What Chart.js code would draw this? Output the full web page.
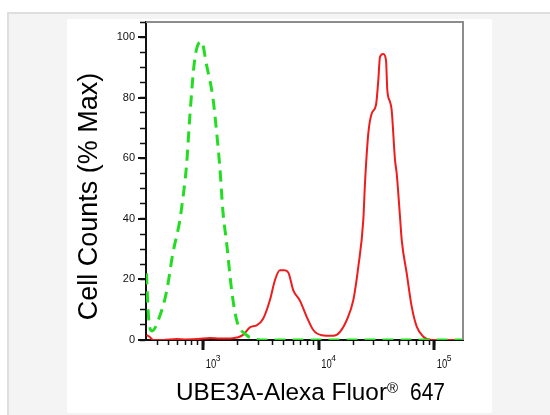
<!DOCTYPE html>
<html>
<head>
<meta charset="utf-8">
<script src="https://cdn.jsdelivr.net/npm/chart.js@4.4.1/dist/chart.umd.min.js"></script>
<style>
    body { margin: 0; background: #fff; width: 550px; height: 415px; position: relative; overflow: hidden; }
    #frame { position: absolute; left: 7px; top: 12px; width: 543px; height: 403px; background: #f4f4f4; border-top: 2px solid #dedede; border-left: 2px solid #dedede; box-sizing: border-box; }
    #panel { position: absolute; left: 67px; top: 19px; width: 425px; height: 394px; background: #fff; }
    #chart { position: absolute; left: 0; top: 0; }
</style>
</head>
<body>
<div id="frame"></div>
<div id="panel"><canvas id="chart" width="425" height="394"></canvas></div>
<script>
// isotype control (green, dashed)
const controlX = [323, 336, 360, 422, 485, 547, 629, 650, 718, 767, 847, 968, 1069, 1213, 1306, 1395, 1482, 1595, 1762, 1946, 2376, 2693, 3500, 10000, 50000, 177000];
const controlY = [22, 8, 3, 8, 16.5, 28.7, 39.6, 43.5, 57.8, 74, 93, 98.5, 90.8, 80, 68.7, 56.8, 42.4, 32, 16.5, 6.6, 1.6, 0.5, 0, 0, 0, 0];

// UBE3A stained (red)
const stainX = [324, 345, 370, 450, 590, 700, 900, 1150, 1400, 1800, 2200, 2540, 2900, 3300, 3780, 4180, 4610, 5050, 5450, 6010, 6870, 7850, 8960, 10600, 13360, 15270, 17450, 19910, 21990, 24280, 25110, 26830, 28710, 31280, 32750, 33870, 36150, 38170, 39180, 41320, 42740, 45690, 47230, 50450, 52210, 57680, 63710, 70400, 80330, 94870, 130000, 177000];
const stainY = [1.6, 1.0, 0, 0, 0.3, 0.2, 0.3, 0.7, 0.5, 0.6, 1.6, 4.2, 4.8, 7.0, 13.2, 19.8, 23.0, 23.0, 22.3, 16.5, 13.0, 7.7, 3.3, 1.6, 1.4, 2.7, 6.6, 13.2, 24.2, 39.6, 51.7, 68.2, 74.8, 77.6, 85.8, 93.5, 94.4, 92.4, 82.5, 78.7, 75.9, 59.4, 55, 40.7, 33, 22, 11, 4.4, 1.1, 0, 0, 0];

const xTickValues = [400, 500, 600, 700, 800, 900, 1000, 2000, 3000, 4000, 5000, 6000, 7000, 8000, 9000, 10000, 20000, 30000, 40000, 50000, 60000, 70000, 80000, 90000, 100000];
const xMajorValues = [1000, 10000, 100000];
const xMajorExps = ['3', '4', '5'];
const yLabelValues = [0, 20, 40, 60, 80, 100];

const xTitle = 'UBE3A-Alexa Fluor';
const xTitleMark = '\u00AE';
const xTitleEnd = '647';
const yTitle = 'Cell Counts (% Max)';

function toPoints(xs, ys) {
    return xs.map((x, i) => ({ x: x, y: ys[i] }));
}

const axisPlugin = {
    id: 'axisPlugin',
    afterDraw(chart) {
        const ctx = chart.ctx;
        const area = chart.chartArea;
        const xScale = chart.scales.x;
        const yScale = chart.scales.y;
        ctx.save();

        // top and right frame
        ctx.strokeStyle = '#8c8c8c';
        ctx.lineWidth = 2;
        ctx.beginPath();
        ctx.moveTo(area.left, area.top);
        ctx.lineTo(area.right, area.top);
        ctx.lineTo(area.right, area.bottom);
        ctx.stroke();

        // major ticks
        ctx.strokeStyle = '#111';
        ctx.lineWidth = 3;
        xMajorValues.forEach(v => {
            const px = Math.round(xScale.getPixelForValue(v));
            ctx.beginPath();
            ctx.moveTo(px, area.bottom);
            ctx.lineTo(px, area.bottom + 10);
            ctx.stroke();
        });
        ctx.lineWidth = 2;
        yLabelValues.forEach(v => {
            const py = Math.round(yScale.getPixelForValue(v));
            ctx.beginPath();
            ctx.moveTo(area.left - 8, py);
            ctx.lineTo(area.left, py);
            ctx.stroke();
        });

        // x tick labels 10^n
        ctx.fillStyle = '#111';
        ctx.textAlign = 'left';
        ctx.textBaseline = 'alphabetic';
        xMajorValues.forEach((v, i) => {
            const px = xScale.getPixelForValue(v);
            ctx.font = '12px Arial';
            ctx.fillText('10', px + 2.5, area.bottom + 28, 10.5);
            ctx.font = '8.5px Arial';
            ctx.fillText(xMajorExps[i], px + 12.5, area.bottom + 21);
        });

        // x title
        ctx.fillStyle = '#000';
        ctx.font = '24.5px Arial';
        ctx.fillText(xTitle, 109, 381, 211);
        ctx.font = '15px Arial';
        ctx.fillText(xTitleMark, 320, 374);
        ctx.font = '24.5px Arial';
        ctx.fillText(xTitleEnd, 343, 381, 35);

        // y title
        ctx.translate(29.5, 177.5);
        ctx.rotate(-Math.PI / 2);
        ctx.textAlign = 'center';
        ctx.font = '27px Arial';
        ctx.fillText(yTitle, 0, 0);
        ctx.restore();
    }
};

const chart = new Chart(document.getElementById('chart').getContext('2d'), {
    type: 'line',
    data: {
        datasets: [{
            label: 'Isotype',
            data: toPoints(controlX, controlY),
            borderColor: '#22dd22',
            borderWidth: 3,
            borderDash: [11, 7],
            pointRadius: 0,
            cubicInterpolationMode: 'monotone',
            fill: false
        }, {
            label: 'UBE3A',
            data: toPoints(stainX, stainY),
            borderColor: '#ee1c1c',
            borderWidth: 2,
            pointRadius: 0,
            cubicInterpolationMode: 'monotone',
            fill: false
        }]
    },
    options: {
        responsive: false,
        animation: false,
        layout: { padding: { top: 3, right: 29, left: 0, bottom: 0 } },
        plugins: {
            legend: { display: false },
            tooltip: { enabled: false }
        },
        scales: {
            x: {
                type: 'logarithmic',
                min: 320,
                max: 177000,
                afterBuildTicks: scale => {
                    scale.ticks = xTickValues.map(v => ({ value: v }));
                },
                afterFit: scale => {
                    scale.height = 73;
                    scale.paddingLeft = 0;
                    scale.paddingRight = 0;
                },
                ticks: { callback: () => '', autoSkip: false, maxRotation: 0 },
                grid: { drawOnChartArea: false, drawTicks: true, tickLength: 5, tickWidth: 1.5, tickColor: '#111' },
                border: { display: true, color: '#111', width: 2 }
            },
            y: {
                type: 'linear',
                min: 0,
                max: 105,
                afterFit: scale => {
                    scale.width = 79;
                    scale.paddingTop = 0;
                    scale.paddingBottom = 0;
                },
                ticks: {
                    stepSize: 5,
                    autoSkip: false,
                    padding: 5,
                    color: '#111',
                    font: { family: 'Arial', size: 11 },
                    callback: v => (v % 20 === 0 ? String(v) : '')
                },
                grid: { drawOnChartArea: false, drawTicks: true, tickLength: 6, tickWidth: 1.5, tickColor: '#111' },
                border: { display: true, color: '#111', width: 2 }
            }
        }
    },
    plugins: [axisPlugin]
});
</script>
</body>
</html>
